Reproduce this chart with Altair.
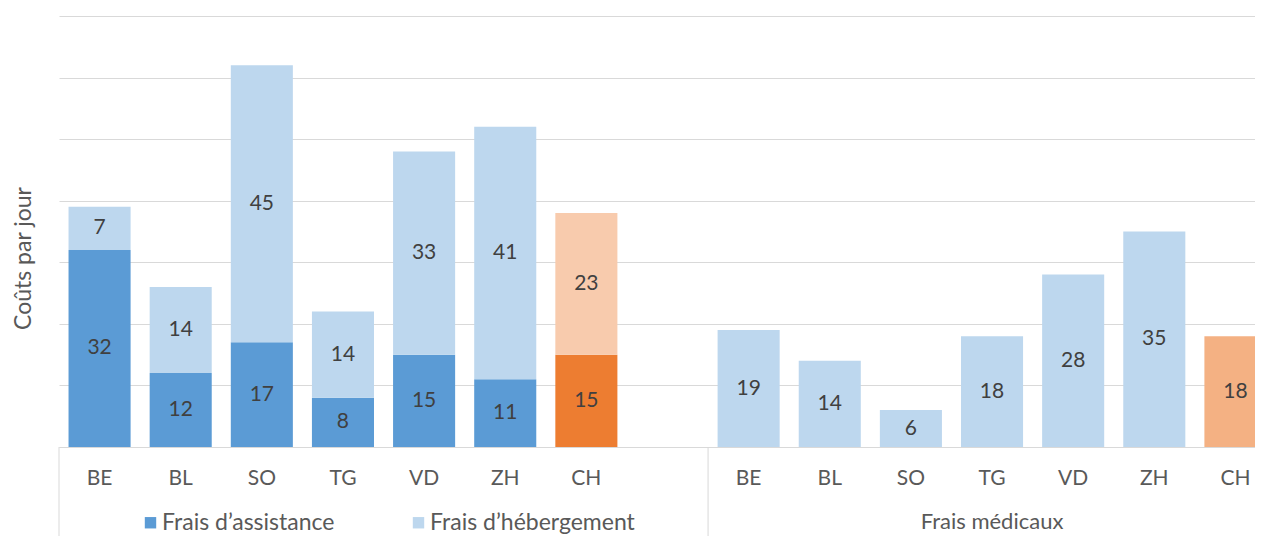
import altair as alt
import pandas as pd

cantons = ["BE", "BL", "SO", "TG", "VD", "ZH", "CH"]
assistance = [32, 12, 17, 8, 15, 11, 15]
hebergement = [7, 14, 45, 14, 33, 41, 23]
medicaux = [19, 14, 6, 18, 28, 35, 18]

SER_A = "Frais d’assistance"
SER_H = "Frais d’hébergement"
SER_M = "Frais médicaux"

slots = ["a:" + c for c in cantons] + ["a:"] + ["m:" + c for c in cantons]

rows = []
for c, va, vh in zip(cantons, assistance, hebergement):
    ka = "CH_a" if c == "CH" else SER_A
    kh = "CH_h" if c == "CH" else SER_H
    rows.append(dict(slot="a:" + c, key=ka, value=va, ord=0))
    rows.append(dict(slot="a:" + c, key=kh, value=vh, ord=1))
for c, vm in zip(cantons, medicaux):
    km = "CH_m" if c == "CH" else SER_M
    rows.append(dict(slot="m:" + c, key=km, value=vm, ord=0))
df = pd.DataFrame(rows)

FONT = "Lato"
GREY = "#595959"
PW = 1217
PH = 431
step = PW / len(slots)
pin = 0.235

xscale = alt.Scale(domain=slots, paddingInner=pin, paddingOuter=pin / 2)
xenc = alt.X(
    "slot:N",
    scale=xscale,
    sort=slots,
    axis=alt.Axis(
        title=None, labelAngle=0, ticks=False, tickSize=0, labelPadding=31,
        labelBaseline="middle", labelFont=FONT, labelFontSize=21, labelColor=GREY,
        domainColor="#D9D9D9", labelExpr="slice(datum.value, 2)",
    ),
)
xplain = alt.X("slot:N", scale=xscale, sort=slots)

color = alt.Color(
    "key:N",
    scale=alt.Scale(
        domain=[SER_A, SER_H, SER_M, "CH_a", "CH_h", "CH_m"],
        range=["#5B9BD5", "#BDD7EE", "#BDD7EE", "#ED7D31", "#F8CBAD", "#F4B183"],
    ),
    legend=alt.Legend(
        values=[SER_A, SER_H], title=None, orient="none", direction="horizontal",
        legendX=80, legendY=495, symbolType="square", symbolSize=130,
        symbolStrokeWidth=0, labelFont=FONT, labelFontSize=23, labelColor=GREY,
        labelOffset=0, columnPadding=72, padding=0, labelLimit=400,
    ),
)

yscale = alt.Scale(domain=[0, 70], nice=False)
yaxis = alt.Axis(
    values=list(range(0, 71, 10)), labels=False, ticks=False, domain=False,
    gridColor="#D9D9D9", title="Coûts par jour", titleFont=FONT, titleFontSize=23,
    titleFontWeight="normal", titleColor=GREY, titleX=-36, titleY=242,
    titleAngle=270, titleAlign="center", titleBaseline="middle",
)

bars = alt.Chart(df).mark_bar().encode(
    x=xenc,
    y=alt.Y("value:Q", stack="zero", scale=yscale, axis=yaxis),
    color=color,
    order=alt.Order("ord:Q"),
)

labels = alt.Chart(df).transform_stack(
    stack="value", groupby=["slot"], as_=["y0", "y1"], sort=[alt.SortField("ord")]
).transform_calculate(mid="(datum.y0 + datum.y1) / 2").mark_text(
    font=FONT, fontSize=21, color="#404040", baseline="middle"
).encode(
    x=xplain,
    y=alt.Y("mid:Q", scale=yscale),
    text=alt.Text("value:Q"),
)

grp = pd.DataFrame({"slot": ["m:TG"], "txt": [SER_M]})
group_label = alt.Chart(grp).mark_text(
    font=FONT, fontSize=22, color=GREY, baseline="middle"
).encode(
    x=xplain,
    y=alt.value(506),
    text="txt:N",
)

sep_left = alt.Chart(grp).mark_rule(color="#D9D9D9", strokeWidth=1).encode(
    x=alt.value(0), y=alt.value(PH), y2=alt.value(PH + 95),
)
sep_mid = alt.Chart(grp).mark_rule(color="#D9D9D9", strokeWidth=1).encode(
    x=alt.value(8 * step), y=alt.value(PH), y2=alt.value(PH + 95),
)

chart = alt.layer(bars, labels, group_label, sep_left, sep_mid).properties(
    width=PW, height=PH,
    autosize=alt.AutoSizeParams(type="none"),
    padding={"left": 51, "top": 8, "right": -21, "bottom": 89},
).configure_view(stroke=None)

chart.save("out.html", embed_options={"renderer": "svg", "actions": False})
